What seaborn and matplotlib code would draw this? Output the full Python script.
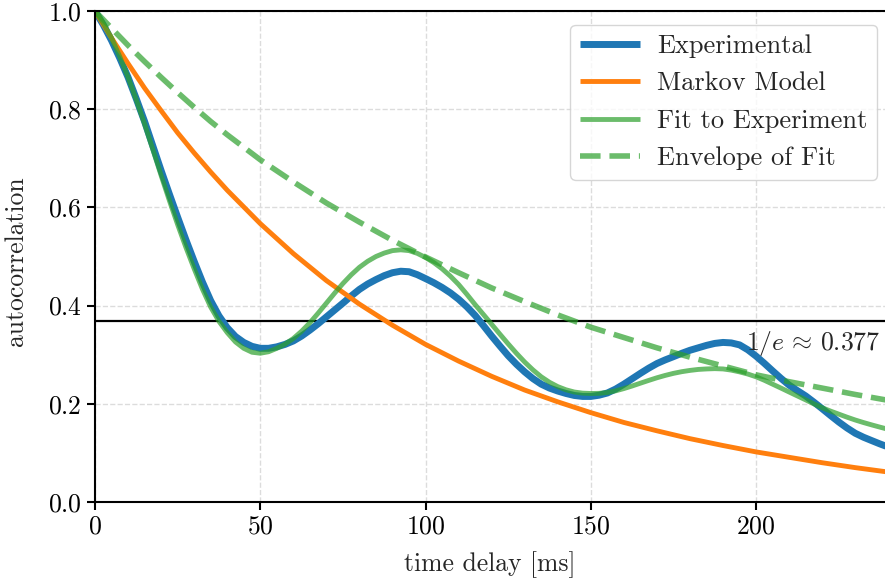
import numpy as np
import pandas as pd
import matplotlib
matplotlib.use("Agg")
import matplotlib.pyplot as plt
import seaborn as sns

# time delay [ms] for the experimental curve and the fit
t_exp = [0, 2.5, 5, 7.5, 10, 12.5, 15, 17.5, 20, 22.5, 25, 27.5, 30, 32.5, 35, 37.5, 40,
         42.5, 45, 47.5, 50, 52.5, 55, 57.5, 60, 62.5, 65, 67.5, 70, 72.5, 75, 77.5, 80,
         82.5, 85, 87.5, 90, 92.5, 95, 97.5, 100, 102.5, 105, 107.5, 110, 112.5, 115,
         117.5, 120, 122.5, 125, 127.5, 130, 132.5, 135, 137.5, 140, 142.5, 145, 147.5,
         150, 152.5, 155, 157.5, 160, 162.5, 165, 167.5, 170, 172.5, 175, 177.5, 180,
         182.5, 185, 187.5, 190, 192.5, 195, 197.5, 200, 202.5, 205, 207.5, 210, 212.5,
         215, 217.5, 220, 222.5, 225, 227.5, 230, 232.5, 235, 237.5, 240]

experimental = [1.0, 0.972, 0.94, 0.904, 0.865, 0.821, 0.775, 0.725, 0.675, 0.627, 0.58,
                0.534, 0.49, 0.448, 0.41, 0.379, 0.355, 0.337, 0.325, 0.317, 0.313,
                0.313, 0.316, 0.321, 0.328, 0.338, 0.350, 0.363, 0.377, 0.391, 0.405,
                0.4195, 0.433, 0.444, 0.453, 0.461, 0.467, 0.470, 0.469, 0.463, 0.455,
                0.4466, 0.437, 0.426, 0.413, 0.3976, 0.380, 0.3594, 0.338, 0.3177, 0.298,
                0.2806, 0.265, 0.2513, 0.240, 0.232, 0.226, 0.221, 0.217, 0.215, 0.215,
                0.2175, 0.222, 0.230, 0.240, 0.251, 0.262, 0.2725, 0.282, 0.2894, 0.296,
                0.3028, 0.309, 0.314, 0.319, 0.323, 0.325, 0.324, 0.320, 0.310, 0.297,
                0.2824, 0.267, 0.252, 0.238, 0.2268, 0.216, 0.2033, 0.190, 0.1763, 0.163,
                0.1508, 0.140, 0.1319, 0.125, 0.1182, 0.112]

fit = [1.0, 0.975, 0.945, 0.907, 0.865, 0.819, 0.77, 0.718, 0.665, 0.614, 0.565,
       0.5186, 0.475, 0.4336, 0.397, 0.368, 0.345, 0.326, 0.313, 0.305, 0.303,
       0.306, 0.313, 0.3216, 0.333, 0.3478, 0.365, 0.3845, 0.405, 0.4254, 0.445,
       0.4626, 0.478, 0.4903, 0.500, 0.507, 0.512, 0.5136, 0.512, 0.5064, 0.498,
       0.4876, 0.475, 0.4601, 0.443, 0.423, 0.402, 0.382, 0.362, 0.3418, 0.322,
       0.3029, 0.285, 0.269, 0.255, 0.2438, 0.235, 0.2285, 0.224, 0.2217, 0.221,
       0.2213, 0.223, 0.2264, 0.231, 0.2363, 0.242, 0.2476, 0.253, 0.2578, 0.262,
       0.2654, 0.268, 0.270, 0.271, 0.2716, 0.271, 0.2686, 0.265, 0.2606, 0.255,
       0.2479, 0.240, 0.2321, 0.224, 0.216, 0.208, 0.1998, 0.192, 0.1852, 0.179,
       0.1728, 0.167, 0.1618, 0.157, 0.1524, 0.148]

# time delay [ms] for the Markov model and the envelope
t_model = [0, 5, 10, 15, 20, 25, 30, 35, 40, 50, 60, 70, 80, 90, 100, 110, 120, 130, 140,
           150, 160, 170, 180, 190, 200, 210, 220, 230, 240]

markov = [1.0, 0.945, 0.893, 0.843, 0.797, 0.752, 0.711, 0.672, 0.635, 0.567, 0.506,
          0.451, 0.403, 0.360, 0.321, 0.287, 0.256, 0.228, 0.204, 0.182, 0.162, 0.145,
          0.129, 0.115, 0.102, 0.091, 0.080, 0.070, 0.061]

envelope = [1.0, 0.965, 0.930, 0.897, 0.865, 0.834, 0.804, 0.775, 0.748, 0.697, 0.652,
            0.609, 0.570, 0.533, 0.499, 0.467, 0.436, 0.408, 0.381, 0.356, 0.335, 0.314,
            0.295, 0.277, 0.259, 0.245, 0.232, 0.219, 0.207]

labels = ["Experimental", "Markov Model", "Fit to Experiment", "Envelope of Fit"]
inv_e = 1 / np.e

FS = 18.5
sns.set_theme(style="whitegrid")
plt.rcParams.update({
    "font.family": ["cmr10", "DejaVu Serif"],
    "mathtext.fontset": "cm",
    "axes.formatter.use_mathtext": True,
    "axes.unicode_minus": False,
    "font.size": FS,
    "axes.edgecolor": "black",
    "axes.linewidth": 1.5,
    "grid.color": "#dcdcdc",
    "grid.linestyle": "--",
    "grid.linewidth": 1.0,
    "xtick.bottom": True,
    "ytick.left": True,
    "xtick.major.size": 6,
    "ytick.major.size": 6,
    "xtick.major.width": 1.5,
    "ytick.major.width": 1.5,
    "xtick.color": "black",
    "ytick.color": "black",
    "xtick.labelsize": FS,
    "ytick.labelsize": FS,
    "lines.solid_capstyle": "butt",
    "lines.solid_joinstyle": "round",
})

df_exp = pd.DataFrame({"t": t_exp, "exp": experimental, "fit": fit})
df_model = pd.DataFrame({"t": t_model, "markov": markov, "env": envelope})

fig = plt.figure(figsize=(8.85, 5.85), dpi=100)
ax = fig.add_axes([95 / 885, 1 - 502 / 585, 1 - 95 / 885, (502 - 11) / 585])

sns.lineplot(data=df_exp, x="t", y="exp", ax=ax, color="#1f77b4", lw=5, label=labels[0])
sns.lineplot(data=df_model, x="t", y="markov", ax=ax, color="#ff7f0e", lw=3.5, label=labels[1])
sns.lineplot(data=df_exp, x="t", y="fit", ax=ax, color="#2ca02c", alpha=0.7, lw=3.5,
             label=labels[2])
sns.lineplot(data=df_model, x="t", y="env", ax=ax, color="#2ca02c", alpha=0.7, lw=4,
             ls="--", label=labels[3])

ax.axhline(inv_e, color="black", lw=1.6, zorder=1.5)
ax.text(237.5, 0.322, r"$1/e\,\approx\,0.377$", ha="right", va="center", fontsize=FS)

ax.set_xlim(0, 239)
ax.set_ylim(0, 1)
ax.set_xticks([0, 50, 100, 150, 200])
ax.set_yticks([0.0, 0.2, 0.4, 0.6, 0.8, 1.0])
ax.set_xlabel("time delay [ms]", fontsize=FS)
ax.set_ylabel("autocorrelation", fontsize=FS)
ax.xaxis.set_label_coords(0.5, -0.1)
ax.yaxis.set_label_coords(-0.085, 0.49)
ax.spines["right"].set_visible(False)
for s in ["left", "bottom", "top"]:
    ax.spines[s].set_color("black")
ax.grid(True, ls="--", color="#dcdcdc")

leg = ax.legend(loc="upper right", bbox_to_anchor=(1 - 8 / 790, 1 - 14 / 491),
                borderaxespad=0, fontsize=19, handlelength=2.3, handletextpad=0.65,
                borderpad=0.35, frameon=True, fancybox=True, framealpha=0.8,
                edgecolor="#cccccc", labelspacing=0.52)

fig.savefig("out.png", dpi=100)
